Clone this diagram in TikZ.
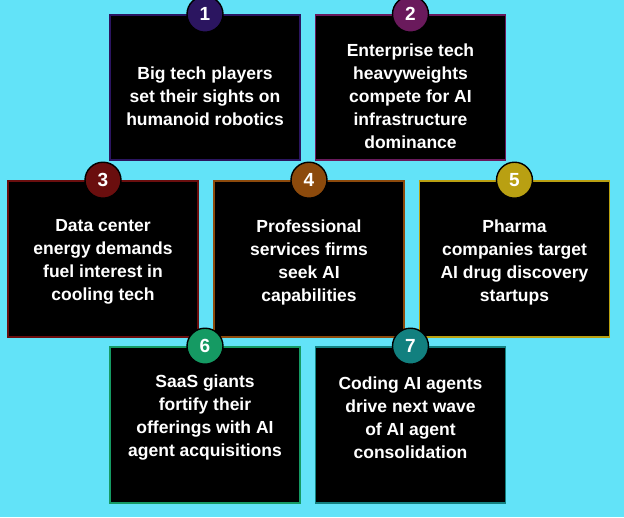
\documentclass[tikz,border=0pt]{standalone}
\usepackage{fontspec}
\setmainfont{Liberation Sans}
\definecolor{bg}{HTML}{62E3F8}
\definecolor{c1}{HTML}{2B1560}
\definecolor{c2}{HTML}{6A1A5C}
\definecolor{c3}{HTML}{6A0E0E}
\definecolor{c4}{HTML}{8C4A0C}
\definecolor{c5}{HTML}{B9A012}
\definecolor{c6}{HTML}{159A63}
\definecolor{c7}{HTML}{12807F}
\tikzset{
  card/.style={draw=#1, line width=1.6pt, fill=black, minimum width=190pt, minimum height=150pt, inner sep=0pt},
  num/.style={circle, draw=black, line width=1.4pt, fill=#1, minimum size=36pt, inner sep=0pt, text=white, font=\bfseries\fontsize{19}{19}\selectfont},
  txt/.style={text=white, align=center, font=\bfseries\fontsize{17.5}{23}\selectfont}
}
\begin{document}
\begin{tikzpicture}[x=1pt,y=-1pt]
\fill[bg] (0,0) rectangle (624,517);
\useasboundingbox (0,0) rectangle (624,517);
\node[card=c1, minimum height=145pt] (b1) at (205,87.5) {};
\node[card=c2, minimum height=145pt] (b2) at (410.5,87.5) {};
\node[card=c3, minimum height=156pt] (b3) at (103,259) {};
\node[card=c4, minimum height=156pt] (b4) at (309,259) {};
\node[card=c5, minimum height=156pt] (b5) at (514.5,259) {};
\node[card=c6, minimum height=156pt] (b6) at (205,425) {};
\node[card=c7, minimum height=156pt] (b7) at (410.5,425) {};
\node[txt] (t1) at (205,96) {Big tech players\\set their sights on\\humanoid robotics};
\node[txt] (t2) at (410.5,96) {Enterprise tech\\heavyweights\\compete for AI\\infrastructure\\dominance};
\node[txt] (t3) at (103,262) {Data center\\energy demands\\fuel interest in\\cooling tech};
\node[txt] (t4) at (309,262) {Professional\\services firms\\seek AI\\capabilities};
\node[txt] (t5) at (514.5,262) {Pharma\\companies target\\AI drug discovery\\startups};
\node[txt] (t6) at (205,418) {SaaS giants\\fortify their\\offerings with AI\\agent acquisitions};
\node[txt] (t7) at (410.5,418) {Coding AI agents\\drive next wave\\of AI agent\\consolidation};
\node[num=c1] (n1) at (b1.north) {1};
\node[num=c2] (n2) at (b2.north) {2};
\node[num=c3] (n3) at (b3.north) {3};
\node[num=c4] (n4) at (b4.north) {4};
\node[num=c5] (n5) at (b5.north) {5};
\node[num=c6] (n6) at (b6.north) {6};
\node[num=c7] (n7) at (b7.north) {7};
\end{tikzpicture}
\end{document}
